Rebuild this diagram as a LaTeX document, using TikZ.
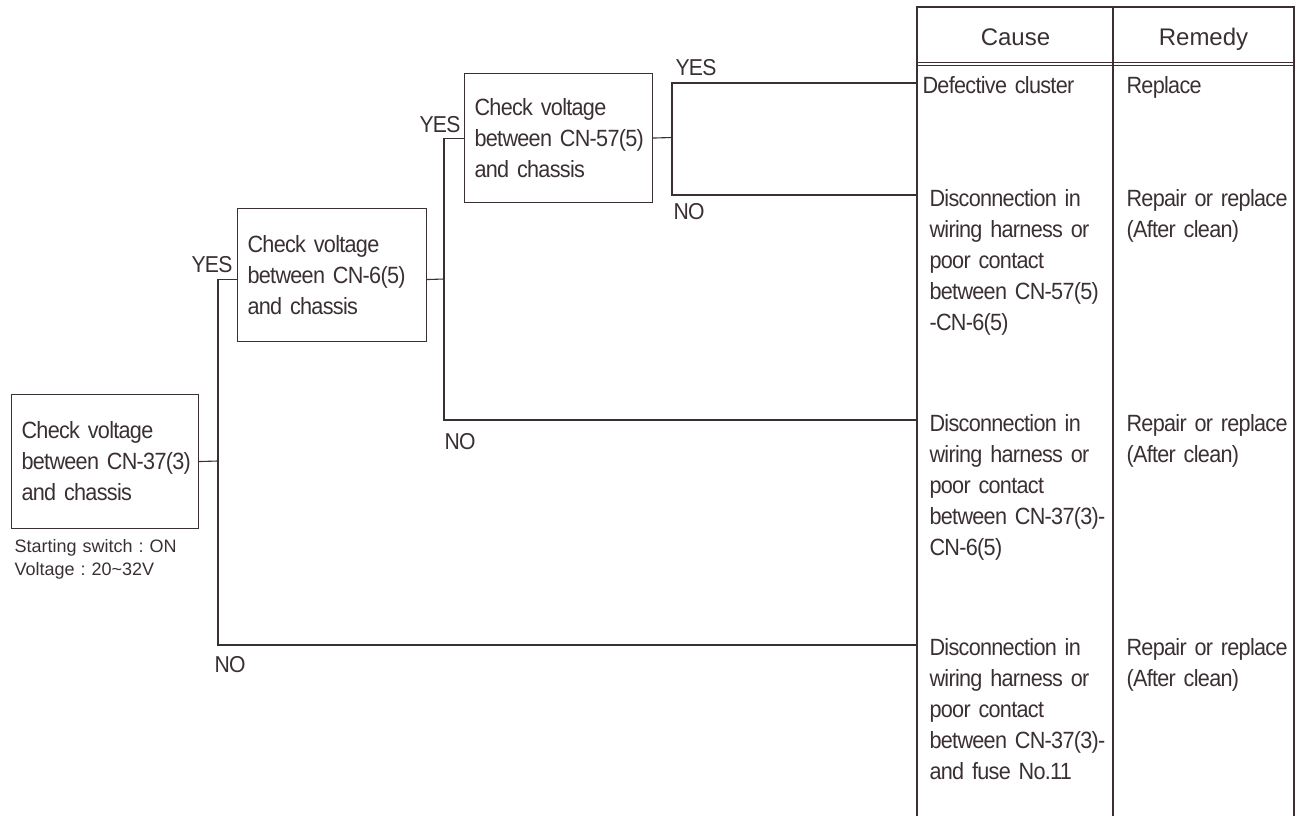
\documentclass[tikz,border=0pt]{standalone}
\usepackage{fontspec}
\setmainfont{Liberation Sans}[FakeStretch=0.92, LetterSpace=-3]
\newfontfamily\notefont{Liberation Sans}
\usetikzlibrary{calc}
\definecolor{ink}{HTML}{3A3033}
\newcommand\nohyph{\hyphenpenalty=10000 \exhyphenpenalty=10000 \spaceskip=5pt plus 1pt\relax}
\frenchspacing

\begin{document}
\begin{tikzpicture}[x=1pt, y=-1pt, line width=1.1pt, color=ink,
	chkbox/.style={draw, align=left, anchor=north west, inner xsep=10pt, font=\fontsize{23.5}{31}\selectfont\nohyph},
	lbl/.style={anchor=base west, inner sep=0pt, font=\fontsize{23}{26}\selectfont},
	cell/.style={anchor=base west, inner sep=0pt, align=left, text width=240pt, font=\fontsize{23.5}{31}\selectfont\nohyph}]
	\useasboundingbox (0,0) rectangle (1306,816);
	
	% check boxes
	\node[chkbox, text width=167pt, minimum height=134pt] (c37) at (11,394) {Check voltage\\between~CN-37(3)\\and chassis};
	\node[chkbox, text width=169pt, minimum height=133pt] (c6) at (237,208) {Check voltage\\between~CN-6(5)\\and chassis};
	\node[chkbox, text width=168pt, minimum height=129pt] (c57) at (464,73) {Check voltage\\between~CN-57(5)\\and chassis};
	\node[anchor=base west, inner sep=0pt, align=left, text width=200pt, font=\notefont\fontsize{18}{23}\selectfont] (note) at (14,552) {Starting switch : ON\\Voltage : 20\textasciitilde32V};
	
	% table
	\draw (917,816) -- (917,7) -- (1294,7) -- (1294,816);
	\draw (1113,7) -- (1113,816);
	\draw[line width=0.9pt] (917,62.5) -- (1294,62.5) (917,65.5) -- (1294,65.5);
	\node[anchor=base, font=\notefont\fontsize{24}{28}\selectfont] (hcause) at (1015.5,46) {Cause};
	\node[anchor=base, font=\notefont\fontsize{24}{28}\selectfont] (hremedy) at (1203.5,46) {Remedy};
	
	\node[cell] (cause1) at (922,93) {Defective cluster};
	\node[cell] (rem1) at (1126,93) {Replace};
	\node[cell] (cause2) at (929,206) {Disconnection in\\wiring harness or\\poor contact\\between CN-57(5)\\-CN-6(5)};
	\node[cell] (rem2) at (1126,206) {Repair or replace\\(After clean)};
	\node[cell] (cause3) at (929,431) {Disconnection in\\wiring harness or\\poor contact\\between CN-37(3)-\\CN-6(5)};
	\node[cell] (rem3) at (1126,431) {Repair or replace\\(After clean)};
	\node[cell] (cause4) at (929,655) {Disconnection in\\wiring harness or\\poor contact\\between CN-37(3)-\\and fuse No.11};
	\node[cell] (rem4) at (1126,655) {Repair or replace\\(After clean)};
	
	% branch points and row ends
	\coordinate (j1) at (218,461);
	\coordinate (j2) at (444,279);
	\coordinate (j3) at (672,137.5);
	\coordinate (r1) at (917,83);
	\coordinate (r2) at (917,195);
	\coordinate (r3) at (917,420);
	\coordinate (r4) at (917,645);
	
	\draw (c37.east) -- (j1);
	\draw ([yshift=-4.5pt]c6.west) -| (j1) |- (r4);
	\draw ([yshift=-4.5pt]c6.east) -- (j2);
	\draw (c57.west) -| (j2) |- (r3);
	\draw (c57.east) -- (j3);
	\draw (r1) -| (j3) |- (r2);
	
	\node[lbl] (yes1) at (191,272) {YES};
	\node[lbl] (no1) at (214,672) {NO};
	\node[lbl] (yes2) at (419,132) {YES};
	\node[lbl] (no2) at (444,449) {NO};
	\node[lbl] (yes3) at (675,75) {YES};
	\node[lbl] (no3) at (673,219) {NO};
\end{tikzpicture}
\end{document}
